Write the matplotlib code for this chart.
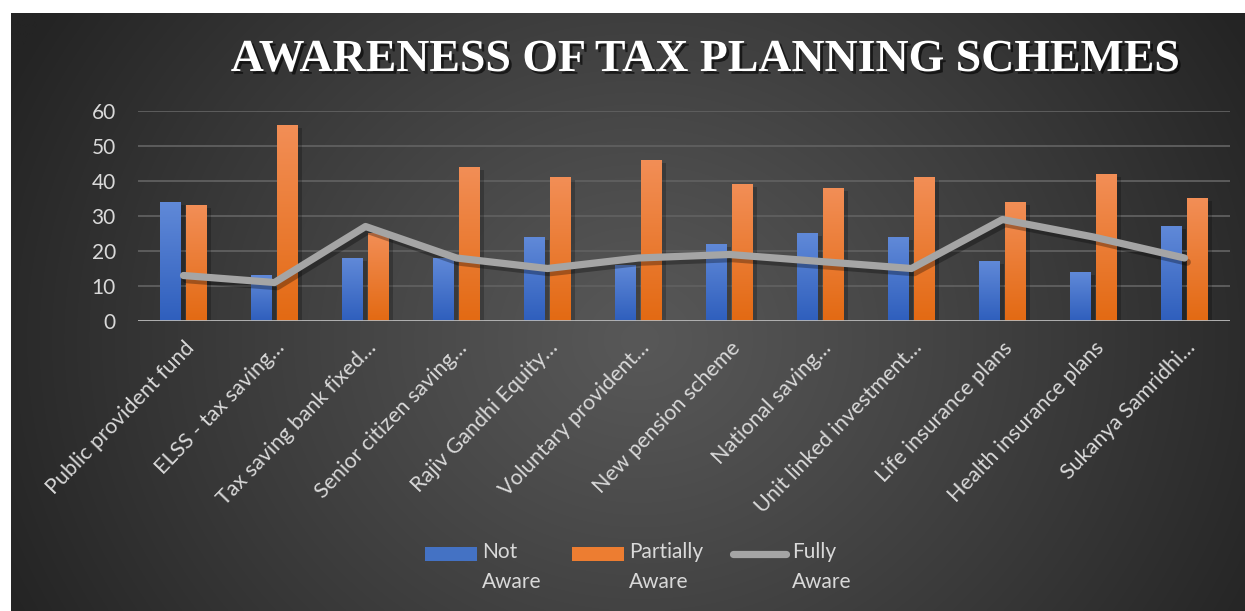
import numpy as np
import matplotlib
matplotlib.use("Agg")
import matplotlib.pyplot as plt
import matplotlib.patheffects as pe
from matplotlib.colors import LinearSegmentedColormap
from matplotlib.patches import Rectangle
from matplotlib.lines import Line2D

# ---- data ---------------------------------------------------------------
schemes = [
    "Public provident fund",
    "ELSS - tax saving…",
    "Tax saving bank fixed…",
    "Senior citizen saving…",
    "Rajiv Gandhi Equity…",
    "Voluntary provident…",
    "New pension scheme",
    "National saving…",
    "Unit linked investment…",
    "Life insurance plans",
    "Health insurance plans",
    "Sukanya Samridhi…",
]
not_aware = [34, 13, 18, 18, 24, 16, 22, 25, 24, 17, 14, 27]
partially_aware = [33, 56, 25, 44, 41, 46, 39, 38, 41, 34, 42, 35]
fully_aware = [13, 11, 27, 18, 15, 18, 19, 17, 15, 29, 24, 18]
y_ticks = [0, 10, 20, 30, 40, 50, 60]
series_labels = ["Not\nAware", "Partially\nAware", "Fully\nAware"]
title = "AWARENESS OF TAX PLANNING SCHEMES"

# ---- styling --------------------------------------------------------------
W, H = 1245, 611
TXT = "#d9d9d9"
BLUE_TOP, BLUE_BOT, BLUE_MID = "#6089d8", "#2f5fbd", "#4472c4"
ORNG_TOP, ORNG_BOT, ORNG_MID = "#f28e56", "#e36a13", "#ed7d31"
GREY = "#a5a5a5"
plt.rcParams["font.family"] = ["Lato", "DejaVu Sans"]

fig = plt.figure(figsize=(W / 100, H / 100), dpi=100)
fig.patch.set_facecolor("white")

# dark radial-gradient panel behind the chart
bg = fig.add_axes([11 / W, 0, 1 - 11 / W, (H - 13) / H])
bg.set_axis_off()
ny, nx = 300, 600
yy, xx = np.mgrid[0:ny, 0:nx]
px = xx / (nx - 1) * (W - 11) + 11
py = yy / (ny - 1) * (H - 13) + 13
d = np.sqrt(((px - 640) / 700) ** 2 + ((py - 340) / 620) ** 2)
t = np.clip(d, 0, 1) ** 1.1
c_in = np.array([88, 88, 88]) / 255
c_out = np.array([36, 36, 36]) / 255
img = c_in[None, None, :] * (1 - t[..., None]) + c_out[None, None, :] * t[..., None]
bg.imshow(img, extent=(0, 1, 0, 1), origin="upper", aspect="auto",
          interpolation="bilinear")
bg.set_xlim(0, 1)
bg.set_ylim(0, 1)

# ---- main plot ------------------------------------------------------------
ax = fig.add_axes([138 / W, (H - 321) / H, 1092 / W, 210 / H])
ax.set_facecolor("none")
x = np.arange(len(schemes))
bw = 0.23
off = 0.143

shadow = [pe.SimplePatchShadow(offset=(3, -2), shadow_rgbFace="black", alpha=0.22),
          pe.Normal()]
blue_bars = ax.bar(x - off, not_aware, bw, color=BLUE_MID, zorder=3,
                   path_effects=shadow)
orng_bars = ax.bar(x + off, partially_aware, bw, color=ORNG_MID, zorder=3,
                   path_effects=shadow)


def gradient_fill(bars, top, bottom):
    cmap = LinearSegmentedColormap.from_list("bar_grad", [bottom, top])
    grad = np.linspace(1, 0, 100).reshape(-1, 1)
    for b in bars:
        x0, w, h = b.get_x(), b.get_width(), b.get_height()
        ax.imshow(grad, extent=(x0, x0 + w, 0, h), origin="upper", cmap=cmap,
                  vmin=0, vmax=1, aspect="auto", zorder=3.1,
                  interpolation="bilinear")


gradient_fill(blue_bars, BLUE_TOP, BLUE_BOT)
gradient_fill(orng_bars, ORNG_TOP, ORNG_BOT)

ax.plot(x, fully_aware, color=GREY, lw=5.2, solid_capstyle="round",
        solid_joinstyle="round", zorder=4,
        path_effects=[pe.SimpleLineShadow(offset=(2, -3), shadow_color="black",
                                          alpha=0.3), pe.Normal()])

ax.set_xlim(-0.5, len(schemes) - 0.5)
ax.set_ylim(0, 60)
ax.set_yticks(y_ticks)
ax.yaxis.grid(True, color="#606060", lw=1.3)
ax.set_axisbelow(True)
for s in ax.spines.values():
    s.set_visible(False)
ax.axhline(0, color="#b8b8b8", lw=2, zorder=5)
ax.tick_params(axis="y", length=0, pad=16, labelsize=15, labelcolor=TXT)
ax.set_xticks(x)
ax.set_xticklabels(schemes, rotation=46, ha="right", va="top",
                   rotation_mode="anchor", fontsize=15.5, color=TXT)
ax.tick_params(axis="x", length=0, pad=12)

# ---- title ----------------------------------------------------------------
fig.text(706 / W, 1 - 71 / H, title, ha="center", va="baseline",
         fontsize=33, fontweight="bold", family="Liberation Serif",
         color="white",
         path_effects=[pe.withSimplePatchShadow(offset=(2, -2),
                                                shadow_rgbFace="black",
                                                alpha=0.6)])

# ---- legend ---------------------------------------------------------------
ly = 554
fig.add_artist(Rectangle((425 / W, 1 - 561 / H), 52 / W, 14 / H,
                         transform=fig.transFigure, facecolor=BLUE_MID,
                         edgecolor="none"))
fig.add_artist(Rectangle((572 / W, 1 - 561 / H), 52 / W, 14 / H,
                         transform=fig.transFigure, facecolor=ORNG_MID,
                         edgecolor="none"))
fig.add_artist(Line2D([733 / W, 786 / W], [1 - ly / H, 1 - ly / H],
                      transform=fig.transFigure, color=GREY, lw=5.2,
                      solid_capstyle="round"))
for tx, lab in zip([482, 629, 792], series_labels):
    fig.text(tx / W, 1 - 542 / H, lab, ha="left", va="top", fontsize=15,
             color=TXT, linespacing=1.65)

fig.savefig("out.png", dpi=100, facecolor=fig.get_facecolor())
